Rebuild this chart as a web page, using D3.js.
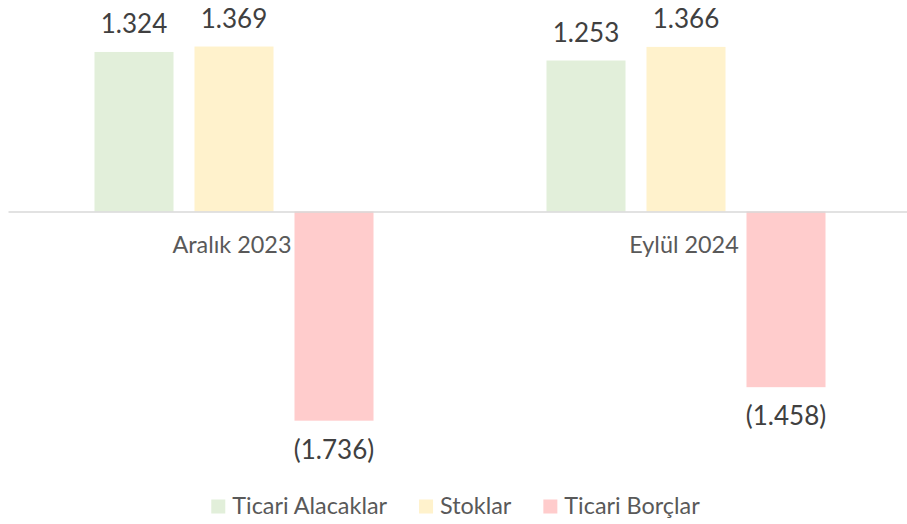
<!DOCTYPE html>
<html>
<head>
<meta charset="utf-8">
<script src="https://cdn.jsdelivr.net/npm/d3@7"></script>
<style>
  html, body { margin: 0; padding: 0; background: #fff; }
  svg { display: block; font-family: Lato, "Open Sans", sans-serif; }
</style>
</head>
<body>
<svg id="chart" width="907" height="524"></svg>
<script>
const categories = ["Aralık 2023", "Eylül 2024"];
const seriesNames = ["Ticari Alacaklar", "Stoklar", "Ticari Borçlar"];
const ticariAlacaklar = [1.324, 1.253];
const stoklar = [1.369, 1.366];
const ticariBorclar = [-1.736, -1.458];
const seriesValues = [ticariAlacaklar, stoklar, ticariBorclar];
const colors = ["#E2EFDA", "#FFF2CC", "#FFCCCC"];

const fmt = v => {
  const s = Math.abs(v).toFixed(3);
  return v < 0 ? "(" + s + ")" : s;
};

const W = 907, H = 524;
const svg = d3.select("#chart");

const x0 = d3.scaleBand().domain(categories).range([8, 912]).padding(0);
const x1 = d3.scaleBand().domain(seriesNames).range([0, x0.bandwidth()])
  .paddingInner(0.21).paddingOuter(0.865);
const y = d3.scaleLinear().domain([0, 1.5]).range([211.5, 211.5 - 1.5 * 120.5]);

const data = [];
categories.forEach((c, ci) => {
  seriesNames.forEach((s, si) => {
    data.push({ cat: c, series: s, value: seriesValues[si][ci], color: colors[si] });
  });
});

// bars
svg.append("g").selectAll("rect").data(data).join("rect")
  .attr("x", d => x0(d.cat) + x1(d.series))
  .attr("width", x1.bandwidth())
  .attr("y", d => Math.min(y(d.value), y(0)))
  .attr("height", d => Math.abs(y(d.value) - y(0)))
  .attr("fill", d => d.color);

// axis
const axis = svg.append("g")
  .attr("transform", `translate(0,${y(0)})`)
  .call(d3.axisBottom(x0).tickSize(0).tickPadding(0));
axis.select(".domain").attr("stroke", "#D9D9D9").attr("stroke-width", 1.5);
axis.selectAll(".tick text")
  .attr("font-family", "Lato, sans-serif")
  .attr("font-size", 23.4)
  .attr("fill", "#595959")
  .attr("dy", 0)
  .attr("y", 41.8)
  .attr("dx", -2);

// value labels
svg.append("g").selectAll("text").data(data).join("text")
  .attr("x", d => x0(d.cat) + x1(d.series) + x1.bandwidth() / 2)
  .attr("y", d => d.value >= 0 ? y(d.value) - 19 : y(d.value) + 38)
  .attr("text-anchor", "middle")
  .attr("font-size", 26)
  .attr("fill", "#404040")
  .text(d => fmt(d.value));

// legend
const legend = svg.append("g");
const items = legend.selectAll("g").data(seriesNames).join("g");
items.append("rect").attr("width", 14).attr("height", 14).attr("y", -14.5)
  .attr("fill", (d, i) => colors[i]);
items.append("text").attr("x", 21).attr("y", 0).attr("dy", 0)
  .attr("font-size", 23.4).attr("fill", "#595959").text(d => d);
let cx = 0;
items.each(function () {
  const g = d3.select(this);
  g.attr("transform", `translate(${cx},0)`);
  cx += 21 + g.select("text").node().getComputedTextLength() + 32;
});
const totalW = cx - 32;
legend.attr("transform", `translate(${455.5 - totalW / 2},${514})`);
</script>
</body>
</html>
